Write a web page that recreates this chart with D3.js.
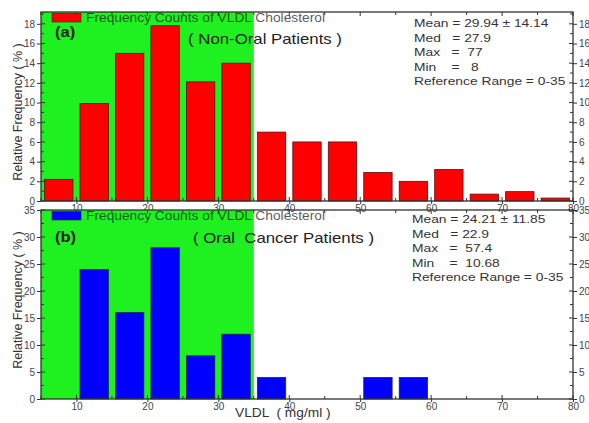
<!DOCTYPE html>
<html>
<head>
<meta charset="utf-8">
<script src="https://cdn.jsdelivr.net/npm/d3@7"></script>
<style>
  html, body { margin: 0; padding: 0; background: #fff; }
  svg { display: block; font-family: "Liberation Sans", Arial, sans-serif; }
  text { white-space: pre; }
</style>
</head>
<body>
<svg id="chart" width="589" height="423"></svg>
<script>
// VLDL bins (mg/ml), 5 units wide
const binStarts = [5, 10, 15, 20, 25, 30, 35, 40, 45, 50, 55, 60, 65, 70, 75];
// Relative frequency (%) per bin
const nonOralFreq = [2.2, 9.9, 15.0, 17.8, 12.1, 14.0, 7.0, 6.0, 6.0, 2.9, 2.0, 3.2, 0.7, 0.95, 0.3];
const oralFreq    = [0, 24, 16, 28, 8, 12, 4, 0, 0, 4, 4, 0, 0, 0, 0];

const xTicks = [10, 20, 30, 40, 50, 60, 70, 80];
const yTicksA = [0, 2, 4, 6, 8, 10, 12, 14, 16, 18];
const yTicksB = [0, 5, 10, 15, 20, 25, 30, 35];
const referenceRange = [5, 35];

const statsA = ["Mean = 29.94 \u00b1 14.14", "Med   = 27.9", "Max   =  77", "Min    =   8", "Reference Range = 0-35"];
const statsB = ["Mean = 24.21 \u00b1 11.85", "Med   = 22.9", "Max   =  57.4", "Min    =  10.68", "Reference Range = 0-35"];

const svg = d3.select("#chart");
const left = 41, right = 573;
const x = d3.scaleLinear().domain([5, 80]).range([left, right]);

// text placed at (tx, ty) and widened horizontally by sx
function wideText(parent, tx, ty, sx, str) {
  return parent.append("text")
    .attr("transform", `translate(${tx},${ty}) scale(${sx},1)`)
    .text(str);
}

const panels = [
  { top: 12, bottom: 201, ymax: 19.2, ticks: yTicksA, minor: 1, data: nonOralFreq, color: "#ff0000", stroke: "#5a1010",
    tag: "(a)", title: "( Non-Oral Patients )", stats: statsA, tagY: 37, titleX: 188, titleY: 44, statsX: 414, statsY: 27,
    ylabelY: 112 },
  { top: 210, bottom: 399, ymax: 35, ticks: yTicksB, minor: 2.5, data: oralFreq, color: "#0000ff", stroke: "#22225a",
    tag: "(b)", title: "( Oral  Cancer Patients )", stats: statsB, tagY: 242, titleX: 193, titleY: 243, statsX: 412, statsY: 223,
    ylabelY: 300 }
];

panels.forEach(p => {
  const y = d3.scaleLinear().domain([0, p.ymax]).range([p.bottom, p.top]);
  const g = svg.append("g");

  // reference range shading
  g.append("rect")
    .attr("x", x(referenceRange[0])).attr("y", p.top)
    .attr("width", x(referenceRange[1]) - x(referenceRange[0]))
    .attr("height", p.bottom - p.top)
    .attr("fill", "#1ff01f");

  // histogram bars
  const bins = binStarts.map((s, i) => ({ s, v: p.data[i] })).filter(d => d.v > 0);
  g.selectAll("rect.bar").data(bins).join("rect")
    .attr("class", "bar")
    .attr("x", d => x(d.s + 0.5))
    .attr("width", d => x(d.s + 4.5) - x(d.s + 0.5))
    .attr("y", d => y(d.v))
    .attr("height", d => y(0) - y(d.v))
    .attr("fill", p.color)
    .attr("stroke", p.stroke)
    .attr("stroke-width", 0.8);

  const minorY = d3.range(0, p.ymax + 0.001, p.minor);
  const minorX = d3.range(5, 80.001, 5);

  const leftAxis = d3.axisLeft(y).tickValues(p.ticks).tickSize(4).tickPadding(2);
  const rightAxis = d3.axisRight(y).tickValues(p.ticks).tickSize(4).tickPadding(2);
  const bottomAxis = d3.axisBottom(x).tickValues(xTicks).tickSize(3).tickPadding(1);

  const styleAxis = sel => {
    sel.select(".domain").remove();
    sel.selectAll("line").attr("stroke", "#333").attr("stroke-width", 1);
    sel.selectAll("text").attr("fill", "#444").attr("font-size", 10)
      .attr("font-family", "'Liberation Sans', Arial, sans-serif");
  };

  g.append("g").attr("transform", `translate(${left},0)`).call(leftAxis).call(styleAxis);
  g.append("g").attr("transform", `translate(${right},0)`).call(rightAxis).call(styleAxis);
  g.append("g").attr("transform", `translate(0,${p.bottom})`).call(bottomAxis).call(styleAxis);

  // inner minor ticks on all four sides
  const tk = g.append("g").attr("stroke", "#333").attr("stroke-width", 1);
  minorY.forEach(v => {
    const len = p.ticks.includes(+v.toFixed(3)) ? 4 : 3;
    tk.append("line").attr("x1", left).attr("x2", left + len).attr("y1", y(v)).attr("y2", y(v));
    tk.append("line").attr("x1", right).attr("x2", right - len).attr("y1", y(v)).attr("y2", y(v));
  });
  minorX.forEach(v => {
    const len = xTicks.includes(v) ? 4 : 3;
    tk.append("line").attr("x1", x(v)).attr("x2", x(v)).attr("y1", p.bottom).attr("y2", p.bottom - len);
    tk.append("line").attr("x1", x(v)).attr("x2", x(v)).attr("y1", p.top).attr("y2", p.top + len);
  });

  // frame
  g.append("rect")
    .attr("x", left).attr("y", p.top)
    .attr("width", right - left).attr("height", p.bottom - p.top)
    .attr("fill", "none").attr("stroke", "#333").attr("stroke-width", 1.3);

  // legend
  g.append("rect")
    .attr("x", 52).attr("y", p.top + 1.5).attr("width", 29).attr("height", 8.5)
    .attr("fill", p.color).attr("stroke", p.stroke).attr("stroke-width", 0.6);
  wideText(g, 86, p.top + 9.5, 1.12, "Frequency Counts of VLDL Cholesterol")
    .attr("font-size", 12.3).attr("fill", "#222").attr("fill-opacity", 0.75);

  // panel tag and title
  wideText(g, 55, p.tagY, 1.1, p.tag)
    .attr("font-size", 15).attr("font-weight", "bold").attr("fill", "#222");
  wideText(g, p.titleX, p.titleY, 1.2, p.title)
    .attr("font-size", 14).attr("fill", "#222");

  // summary statistics
  p.stats.forEach((s, i) => {
    wideText(g, p.statsX, p.statsY + i * 14.5, 1.2, s)
      .attr("font-size", 11.5).attr("fill", "#333");
  });

  // y axis title
  g.append("text")
    .attr("transform", `translate(19,${p.ylabelY}) rotate(-90)`)
    .attr("text-anchor", "middle").attr("dominant-baseline", "middle")
    .attr("font-size", 12.5).attr("fill", "#333")
    .text("Relative Frequency ( % )");
});

// x axis title
wideText(svg, 235, 417, 1.1, "VLDL  ( mg/ml )")
  .attr("font-size", 12.5).attr("fill", "#333");
</script>
</body>
</html>
